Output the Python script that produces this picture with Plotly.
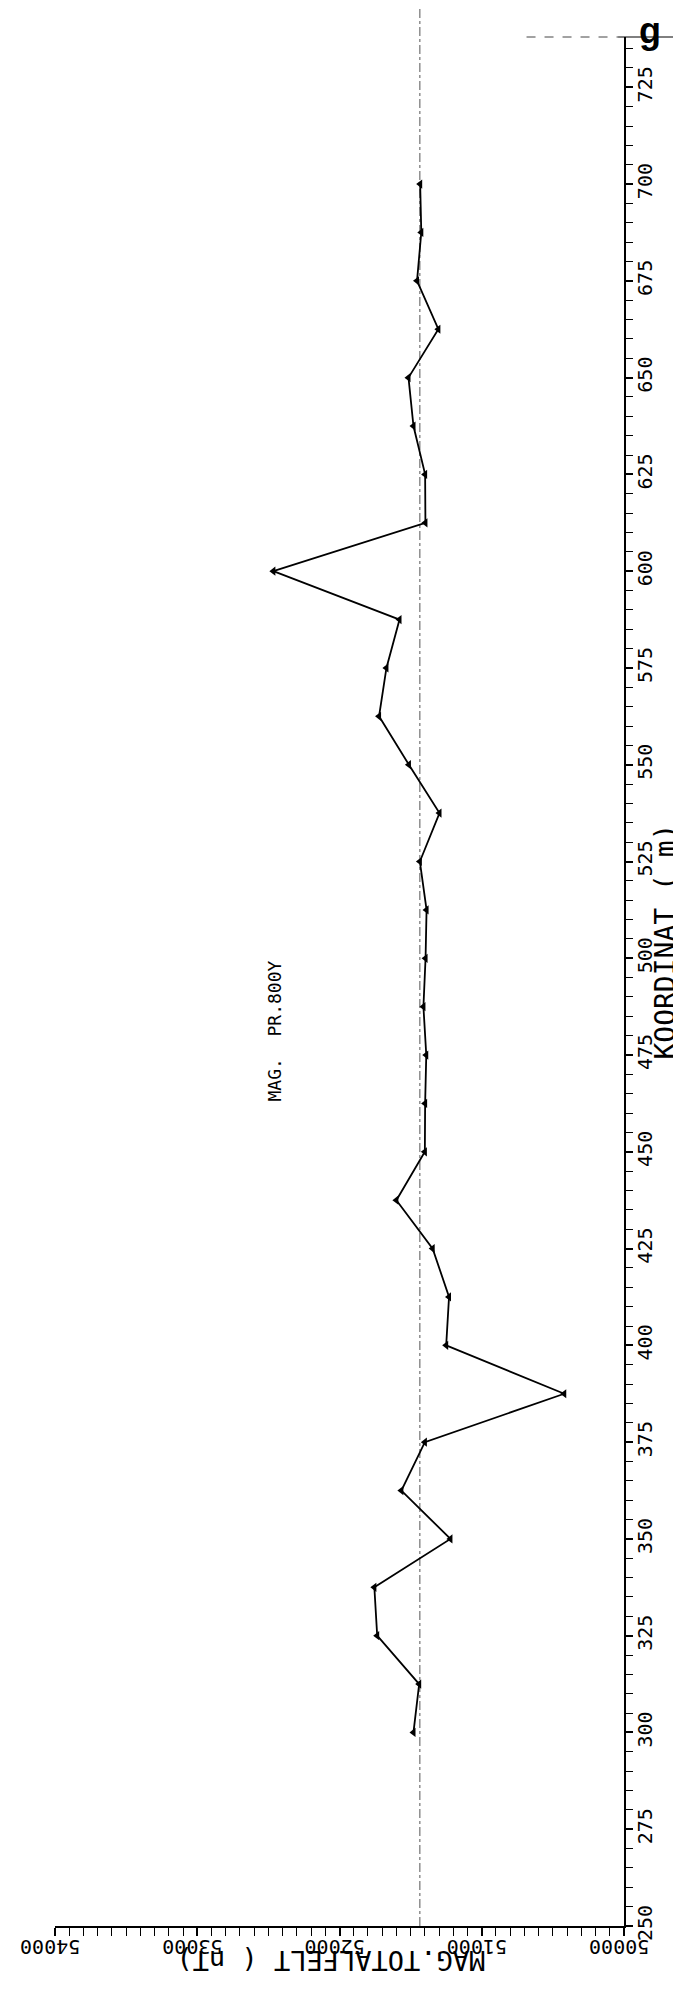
import plotly.graph_objects as go

# ---- data ----
koordinat = [300, 312.5, 325, 337.5, 350, 362.5, 375, 387.5, 400, 412.5, 425,
             437.5, 450, 462.5, 475, 487.5, 500, 512.5, 525, 537.5, 550, 562.5,
             575, 587.5, 600, 612.5, 625, 637.5, 650, 662.5, 675, 687.5, 700]
totalfelt = [51480, 51440, 51735, 51755, 51220, 51565, 51400, 50420, 51250, 51230, 51345,
             51600, 51400, 51398, 51390, 51410, 51395, 51388, 51435, 51297, 51512, 51722,
             51670, 51578, 52465, 51396, 51398, 51480, 51515, 51305, 51455, 51425, 51433]
ref_level = 51435

y_ticks = [250, 275, 300, 325, 350, 375, 400, 425, 450, 475, 500, 525, 550, 575,
           600, 625, 650, 675, 700, 725]
x_ticks = [50000, 51000, 52000, 53000, 54000]

title_text = "MAG.  PR.800Y"
x_title = "MAG.TOTALFELT ( nT)"
y_title = "KOORDINAT ( m)"

W, H = 681, 1990
L, R, T, B = 38, 65, 29, 72
PW, PH = W - L - R, H - T - B


def px(xp):
    return (xp - L) / PW


def py(yp):
    return 1 - (yp - T) / PH


FONT = "DejaVu Sans Mono"

fig = go.Figure()
fig.add_trace(go.Scatter(
    x=totalfelt, y=koordinat, mode="lines+markers",
    line=dict(color="black", width=1.8),
    marker=dict(symbol="triangle-left", size=8, color="black"),
    hoverinfo="x+y", cliponaxis=False,
))

fig.update_layout(
    width=W, height=H,
    margin=dict(l=L, r=R, t=T, b=B),
    paper_bgcolor="white", plot_bgcolor="white",
    showlegend=False,
    font=dict(family=FONT, color="black"),
)

fig.update_xaxes(
    range=[54000, 50000],
    tickmode="array", tickvals=x_ticks, ticktext=[str(v) for v in x_ticks],
    tickangle=180, tickfont=dict(size=20, family=FONT, color="black"),
    ticklabelshift=35,
    ticks="outside", ticklen=8, tickwidth=1.5, tickcolor="black",
    minor=dict(tick0=50000, dtick=100, ticks="outside", ticklen=8,
               tickwidth=1.2, tickcolor="black", showgrid=False),
    showline=True, linewidth=2, linecolor="black",
    showgrid=False, zeroline=False, mirror=False,
)

fig.update_yaxes(
    side="right", range=[250, 738],
    tickmode="array", tickvals=y_ticks, ticktext=[str(v) for v in y_ticks],
    tickangle=-90, tickfont=dict(size=20, family=FONT, color="black"),
    ticklabelstandoff=-5,
    ticks="outside", ticklen=7, tickwidth=1.5, tickcolor="black",
    minor=dict(tick0=250, dtick=5, ticks="outside", ticklen=7,
               tickwidth=1.2, tickcolor="black", showgrid=False),
    showline=True, linewidth=2, linecolor="black",
    showgrid=False, zeroline=False, mirror=False,
)

# reference level (dash-dot line through the full height)
fig.add_shape(type="line", xref="x", yref="paper",
              x0=ref_level, x1=ref_level, y0=0, y1=1 + T / PH,
              line=dict(color="#555555", width=1, dash="dashdot"), layer="below")

# paper edge line at top right
fig.add_shape(type="line", xref="paper", yref="paper",
              x0=px(517), x1=px(610), y0=1, y1=1,
              line=dict(color="#444444", width=1, dash="dash"))
fig.add_shape(type="line", xref="paper", yref="paper",
              x0=px(610), x1=px(681), y0=1, y1=1,
              line=dict(color="black", width=1))

fig.add_annotation(text=title_text, textangle=-90, xref="paper", yref="paper",
                   x=px(260), y=py(1023), showarrow=False,
                   font=dict(size=18, family=FONT, color="black"))
fig.add_annotation(text=y_title, textangle=-90, xref="paper", yref="paper",
                   x=px(676), y=py(934), showarrow=False,
                   font=dict(size=28, family=FONT, color="black"))
fig.add_annotation(text=x_title, textangle=180, xref="paper", yref="paper",
                   x=px(318), y=py(1970), showarrow=False,
                   font=dict(size=27, family=FONT, color="black"))
fig.add_annotation(text="<b>g</b>", xref="paper", yref="paper",
                   x=px(656), y=py(0), yanchor="top", showarrow=False,
                   font=dict(size=36, family="Liberation Sans", color="black"))

fig.write_html("out.html")
